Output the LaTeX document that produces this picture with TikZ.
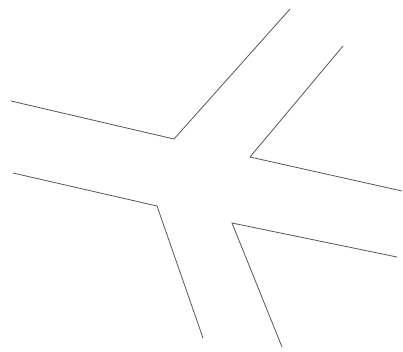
\documentclass[tikz,border=0pt]{standalone}
\usepackage{tikz}

\begin{document}
\begin{tikzpicture}[
        x=0.03cm, y=-0.03cm,
        kerb/.style={draw=black!65, line width=0.7pt, line join=miter}
    ]
        \useasboundingbox (0,0) rectangle (403,351);

        % Kerb corners
        \coordinate (nw) at (174,139);
        \coordinate (ne) at (250,157);
        \coordinate (sw) at (157,206);
        \coordinate (se) at (232,223);

        % Kerbs
        \draw[kerb] (11,101) -- (nw) -- (290,9);
        \draw[kerb] (343,46) -- (ne) -- (402,191);
        \draw[kerb] (13,173) -- (sw) -- (203,338);
        \draw[kerb] (397,257) -- (se) -- (282,347);

    \end{tikzpicture}
\end{document}
